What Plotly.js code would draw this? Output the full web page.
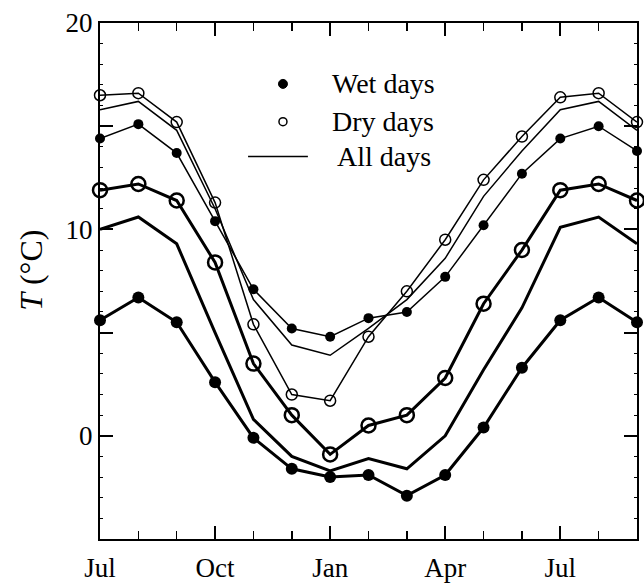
<!DOCTYPE html>
<html>
<head>
<meta charset="utf-8">
<script src="https://cdn.plot.ly/plotly-3.0.1.min.js"></script>
<style>html,body{margin:0;padding:0;background:#fff;}#chart{width:644px;height:586px;}</style>
</head>
<body>
<div id="chart"></div>
<script>
// Month index along x (Jul .. Sep of the following year)
const months = ['Jul','Aug','Sep','Oct','Nov','Dec','Jan','Feb','Mar','Apr','May','Jun','Jul','Aug','Sep'];
const monthIdx = [0,1,2,3,4,5,6,7,8,9,10,11,12,13,14];
const labelIdx = [0,3,6,9,12];

// Upper (thin) set
const upperWet = [14.4, 15.1, 13.7, 10.4, 7.1, 5.2, 4.8, 5.7, 6.0, 7.7, 10.2, 12.7, 14.4, 15.0, 13.8];
const upperDry = [16.5, 16.6, 15.2, 11.3, 5.4, 2.0, 1.7, 4.8, 7.0, 9.5, 12.4, 14.5, 16.4, 16.6, 15.2];
const upperAll = [15.8, 16.2, 14.8, 11.0, 6.6, 4.4, 3.9, 5.2, 6.6, 8.6, 11.6, 13.8, 15.8, 16.2, 14.8];
// Lower (thick) set
const lowerWet = [5.6, 6.7, 5.5, 2.6, -0.1, -1.6, -2.0, -1.9, -2.9, -1.9, 0.4, 3.3, 5.6, 6.7, 5.5];
const lowerDry = [11.9, 12.2, 11.4, 8.4, 3.5, 1.0, -0.9, 0.5, 1.0, 2.8, 6.4, 9.0, 11.9, 12.2, 11.4];
const lowerAll = [10.0, 10.6, 9.3, 5.0, 0.8, -1.0, -1.7, -1.1, -1.6, 0.0, 3.2, 6.2, 10.1, 10.6, 9.3];

const legendLabels = ['Wet days', 'Dry days', 'All days'];
const yTitle = '<i>T</i> (°C)';
const yTickVals = [0, 5, 10, 15, 20];
const yTickText = ['0', '', '10', '', '20'];

const FONT = 'Liberation Serif, Times New Roman, serif';

function tr(y, w, mode, sym, size, lw) {
  const t = {x: monthIdx, y: y, type: 'scatter', mode: mode, cliponaxis: false,
    line: {color: '#000', width: w}, showlegend: false, hoverinfo: 'skip'};
  if (mode.indexOf('markers') >= 0) {
    t.marker = {symbol: sym, size: size, color: '#000', line: {color: '#000', width: lw}};
  }
  return t;
}

const data = [
  tr(upperAll, 1.5, 'lines'),
  tr(upperWet, 1.5, 'lines+markers', 'circle', 10, 0),
  tr(upperDry, 1.5, 'lines+markers', 'circle-open', 11, 1.5),
  tr(lowerAll, 3, 'lines'),
  tr(lowerWet, 3, 'lines+markers', 'circle', 12, 0),
  tr(lowerDry, 3, 'lines+markers', 'circle-open', 14, 2.5),
  // invisible trace so the mirrored tick axes (top / right) are drawn
  {x: monthIdx, y: upperAll, xaxis: 'x2', yaxis: 'y2', type: 'scatter', mode: 'lines',
   opacity: 0, line: {width: 0}, showlegend: false, hoverinfo: 'skip'}
];

const xTicks = {
  ticks: 'inside', ticklen: 13, tickwidth: 2, tickcolor: '#000',
  tickvals: labelIdx,
  minor: {tickvals: monthIdx, ticklen: 8, tickwidth: 1.5, tickcolor: '#000', ticks: 'inside'}
};
const yTicks = {
  ticks: 'inside', ticklen: 13, tickwidth: 2, tickcolor: '#000',
  tickvals: yTickVals,
  minor: {dtick: 1, ticklen: 3, tickwidth: 1, tickcolor: '#000', ticks: 'inside'}
};

const legX = 4.77, legY = [17.05, 15.22, 13.53];
const layout = {
  width: 644, height: 586,
  margin: {l: 100, r: 7, t: 23, b: 47},
  paper_bgcolor: '#fff', plot_bgcolor: '#fff',
  font: {family: FONT, color: '#000', size: 27},
  xaxis: Object.assign({
    range: [0, 14], showgrid: false, zeroline: false,
    showline: true, linecolor: '#000', linewidth: 2, mirror: true,
    ticktext: labelIdx.map(i => months[i]),
    ticklabelstandoff: 4,
    tickfont: {family: FONT, size: 27, color: '#000'}
  }, xTicks),
  yaxis: Object.assign({
    range: [-5, 20], showgrid: false, zeroline: false,
    showline: true, linecolor: '#000', linewidth: 2, mirror: true,
    ticktext: yTickText,
    tickfont: {family: FONT, size: 27, color: '#000'}
  }, yTicks),
  xaxis2: Object.assign({
    overlaying: 'x', side: 'top', anchor: 'y', range: [0, 14],
    showgrid: false, zeroline: false, showline: false, showticklabels: false
  }, xTicks),
  yaxis2: Object.assign({
    overlaying: 'y', side: 'right', anchor: 'x', range: [-5, 20],
    showgrid: false, zeroline: false, showline: false, showticklabels: false
  }, yTicks),
  shapes: [
    {type: 'circle', xref: 'x', yref: 'y', xsizemode: 'pixel', ysizemode: 'pixel',
     xanchor: legX, yanchor: legY[0], x0: -4.5, x1: 4.5, y0: -4.5, y1: 4.5,
     fillcolor: '#000', line: {color: '#000', width: 1}},
    {type: 'circle', xref: 'x', yref: 'y', xsizemode: 'pixel', ysizemode: 'pixel',
     xanchor: legX, yanchor: legY[1], x0: -4, x1: 4, y0: -4, y1: 4,
     fillcolor: 'rgba(0,0,0,0)', line: {color: '#000', width: 1.5}},
    {type: 'line', xref: 'x', yref: 'y', x0: 3.86, x1: 5.42, y0: legY[2], y1: legY[2],
     line: {color: '#000', width: 1.5}}
  ],
  annotations: [
    {x: 6.0, y: legY[0], xref: 'x', yref: 'y', text: legendLabels[0], showarrow: false, xanchor: 'left', yanchor: 'middle', font: {family: FONT, size: 28, color: '#000'}},
    {x: 6.0, y: legY[1], xref: 'x', yref: 'y', text: legendLabels[1], showarrow: false, xanchor: 'left', yanchor: 'middle', font: {family: FONT, size: 28, color: '#000'}},
    {x: 6.13, y: legY[2], xref: 'x', yref: 'y', text: legendLabels[2], showarrow: false, xanchor: 'left', yanchor: 'middle', font: {family: FONT, size: 28, color: '#000'}},
    {x: -0.13, y: 0.52, xref: 'paper', yref: 'paper', text: yTitle, showarrow: false, textangle: -90, xanchor: 'center', yanchor: 'middle', font: {family: FONT, size: 32, color: '#000'}}
  ]
};

Plotly.newPlot('chart', data, layout, {displayModeBar: false, staticPlot: true});
</script>
</body>
</html>
